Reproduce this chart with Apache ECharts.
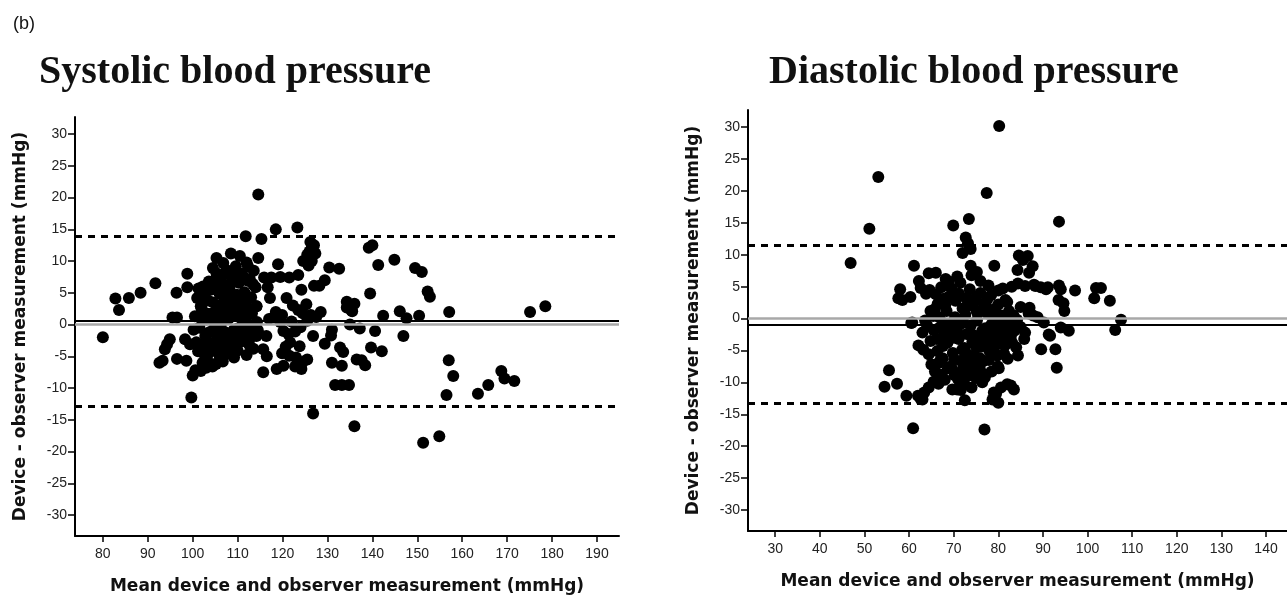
<!DOCTYPE html>
<html>
<head>
<meta charset="utf-8">
<script src="https://cdn.jsdelivr.net/npm/echarts@6/dist/echarts.min.js"></script>
<style>
  html, body { margin: 0; padding: 0; background: #fff; }
  #main { width: 1287px; height: 600px; }
</style>
</head>
<body>
<div id="main"></div>
<script>
// tick labels
var yTicks = [-30, -25, -20, -15, -10, -5, 0, 5, 10, 15, 20, 25, 30];
var sysXTicks = [80, 90, 100, 110, 120, 130, 140, 150, 160, 170, 180, 190];
var diaXTicks = [30, 40, 50, 60, 70, 80, 90, 100, 110, 120, 130, 140];

// Bland-Altman lines: [mean, upper limit, lower limit]
var sysLines = [0.6, 13.9, -12.8];
var diaLines = [-0.9, 11.5, -13.2];

// systolic: [mean of device & observer, device - observer]
var sysPoints = [
  [80,-2],[82.8,4.1],[83.6,2.3],[85.8,4.2],[88.4,5],[91.7,6.5],
  [95.5,1.1],[96.5,1.1],[96.4,5],[98.8,8],[98.8,5.9],
  [94.9,-2.3],[94.3,-3.1],[93.8,-3.9],[93.3,-5.7],[92.6,-6],[96.5,-5.4],[98.6,-5.7],[98.3,-2.3],[99.4,-3.1],
  [100,-8],[100.6,-7.2],[101.8,-7.3],[103,-6.8],[104.2,-6.2],[99.7,-11.5],
  [105.3,-3.9],[106,-5],[108.3,-3.9],[109.5,-3.2],[110.5,-2.8],
  [100.5,1.3],[101,4.2],[101.5,-0.5],[102,2.5],[102.3,6],[102.8,-1.8],[103,0.8],[103.4,3.8],[103.8,-3.5],
  [104,5.5],[104.2,1.7],[104.6,-0.8],[105,7],[105.3,10.5],[105.3,8.1],[105.5,3],[105.8,-2],[106,4.8],[106.3,0.2],
  [106.6,6.3],[107,2.2],[107.2,-1.2],[107.5,8.6],[107.8,4.2],[108,0.9],[108.2,5.8],[108.5,-2.3],[108.8,3.1],[109,7.3],
  [109.3,1.6],[109.6,9.2],[109.8,4.7],[110,-0.6],[110.3,6.6],[110.6,2.4],[111,8],[111.2,-1.5],[111.5,5.1],[111.8,3.3],
  [112,0.4],[112.3,6.9],[112.6,-3.2],[113,4.3],[113.2,1.8],[113.6,8.5],[114,5.9],[114.2,2.9],[114.5,-0.9],
  [104.5,8.9],[106.8,9.7],[103.2,-5],[105.2,-6.2],[107.6,-4.6],[109.2,-5.2],[102,-3.4],[112,-4.8],[101.3,5.7],
  [100.8,-2.8],[108.5,11.2],[110.5,10.8],
  [101.2,-4.2],[102.5,-4.6],[104.8,-2.8],[106.2,-3.3],[107.4,-2.6],[110,-4.1],[111.6,-2.2],[112.8,-0.3],
  [113.5,-3.8],[105.6,-1],[103.7,-1.2],[104.5,3.5],[111,0.8],[113.8,-1.2],
  [100.2,-0.8],[101.6,1.1],[102.4,4.5],[103.1,-2.6],[103.6,6.8],[104.1,-4.2],[104.9,0.6],[105.9,1.6],
  [106.5,-0.9],[106.9,3.4],[107.3,5.2],[107.9,-1.8],[108.4,2.2],[108.7,6.8],[109.1,-0.9],[109.7,3.3],
  [110.2,1.4],[110.8,4],[111.4,-0.2],[111.9,7.1],[112.5,2.1],[113.1,-1.9],[113.4,6.4],[114.3,0.4],
  [104.4,-6.6],[106.7,-5.8],[102.2,-6],[105.5,5.4],[107,7.9],[109.5,8.4],[110.4,-2.3],[112.1,-1.2],
  [101.8,2.9],[103.3,1.7],
  [114.6,20.5],[111.8,13.9],[115.3,13.5],[118.5,15],[123.3,15.3],
  [126.2,13],[126.5,12],[126,11.5],[125.5,11],[124.6,10],[126.5,10],[127,12.5],[127.3,11.2],[125.8,9.3],
  [114.6,10.5],[112,9.8],[112.3,9.2],[119,9.5],[130.4,9],[132.6,8.8],
  [112.7,7.2],[115.9,7.4],[117.5,7.4],[119.5,7.5],[121.5,7.4],[123.5,7.8],
  [127,6.1],[128.2,6.1],[129.4,7],[124.2,5.5],[116.7,5.9],[117.2,4.2],[120.9,4.2],
  [122.3,3],[123.5,2.3],[125.3,3.2],[124.5,1.8],[126.3,1.5],[134.3,2.7],[135.4,2.2],
  [118.5,2],[118,1.1],[119.9,1.5],[114.2,2.9],[117,0.9],[119.5,0.4],[122,0.5],[124,-0.4],
  [125.5,0.6],[127.5,1.2],[128.5,2],
  [114.2,-1.8],[116.4,-1.8],[115.7,-3.9],[116.5,-5],[115.7,-7.5],[118.7,-7],[120.2,-6.5],
  [120.2,-1],[121.3,-1.5],[122.8,-1.1],[121.7,-2.8],[123.8,-3.4],[120.7,-3.5],[119.9,-4.5],[121.5,-4.9],
  [123,-5.2],[124.5,-5.9],[125.5,-5.5],[124.2,-7],[122.8,-6.6],[126.8,-1.8],[131,-0.8],[130.8,-1.7],
  [129.4,-3],[132.8,-3.6],[133.5,-4.3],[131,-6],[133.2,-6.5],[131.7,-9.5],[133.2,-9.5],[134.8,-9.5],[126.8,-14],
  [135,0],[137.2,-0.6],[136.5,-5.5],[137.6,-5.6],[138.4,-6.4],[139.7,-3.6],[140.6,-1],[142.1,-4.2],[146.9,-1.8],[136,-16],
  [157,-5.6],[158,-8.1],[156.5,-11.1],[151.3,-18.6],[154.9,-17.6],[163.5,-10.9],[165.8,-9.5],[168.7,-7.3],
  [169.4,-8.5],[171.6,-8.9],
  [139.2,12.1],[140,12.5],[141.3,9.4],[144.9,10.2],[149.5,8.9],[151,8.3],[152.3,5.2],[152.8,4.4],[139.5,4.9],
  [134.3,3.6],[136,3.3],[135.5,2.1],[142.4,1.4],[146.1,2.1],[147.6,1],[150.4,1.4],[157.1,2],[175.1,2],[178.5,2.9]
];

// diastolic: [mean of device & observer, device - observer]
var diaPoints = [
  [46.9,8.7],[51.1,14.1],[53.1,22.2],[69.9,14.6],[73.4,15.6],[72.7,12.7],[73.2,11.8],[73.8,10.9],[72,10.3],
  [80.2,30.2],[77.4,19.7],[93.6,15.2],
  [61.1,8.3],[58,4.6],[57.6,3.2],[60.3,3.4],[62.2,5.9],[64.4,7.1],[66,7.2],[68.2,6.2],[60.7,-0.6],[58.5,2.9],
  [55.5,-8.1],[54.5,-10.7],[57.3,-10.2],[59.4,-12.1],[60.9,-17.2],[62.6,-12.6],[63.4,-11.6],[64.4,-10.8],
  [65.5,-9.9],[66.8,-9.6],[62,-12.1],[63,-12.7],
  [69.5,-7.7],[70.2,-8.9],[70.8,-11.1],[69.7,-11.1],[72.5,-12.8],
  [62.1,-4.2],[63.2,-4.9],[64.4,-5.6],[60.5,-0.7],
  [64.8,1.2],[66.4,2.3],[67.8,3.1],[64,-1],[65.5,-1.8],[66.2,-3.2],[67.8,-2.5],
  [75.8,-7.7],[77,-9.2],[78.5,-8.3],[80.1,-7.8],[76.4,-10],[78.7,-12.7],[79.5,-11.8],[80.6,-10.8],[82,-10.3],
  [76.9,-17.4],[82.8,-10.5],[83.5,-11.1],[79,-11.6],[80,-13.2],
  [74.6,-6],[75.5,-7],[76.8,-8.7],[79.9,-7.5],
  [85.8,-3.2],[84,-4.5],[84.4,-5.8],[89.6,-4.8],[92.8,-4.8],[93.1,-7.7],[91.6,-2.7],[94,-1.4],[95.8,-1.9],[91.3,-2.5],
  [106.2,-1.8],[107.5,-0.2],[105,2.8],[101.5,3.2],[101.9,4.8],[103,4.8],[97.2,4.4],[93.6,5.2],[94,4.6],
  [94.6,2.4],[94.8,1.2],[93.5,2.9],
  [86.6,9.8],[84.3,7.6],[86.9,7.2],[84.6,9.9],[85.5,9.2],[87.7,8.2],[79.1,8.3],[73.8,8.3],[75.2,7.3],[74,6.8],[76,5.9],
  [84.4,5.5],[86,5.1],[88.3,5.1],[89.5,4.9],[91.1,4.9],[81,4.7],[83,5],[88,5.3],[90.7,4.6],
  [75,3.3],[77.5,3],[80,2.2],[82,2.6],[85,1.8],[87,1.7],[87.8,0.5],[88.8,0.2],[90.2,-0.6],
  [62.6,4.8],[63.8,3.9],[64.6,4.5],[66,3.8],[67.2,4.9],[68.1,2.1],[68.8,3.4],[69.5,4.7],[70.4,2.8],[71.2,3.9],
  [72,1.6],[72.8,3.2],[73.6,4.6],[74.4,2.4],[75.1,1.2],[76,4],[76.8,2.3],[77.6,0.8],[78.4,3.7],[79.2,1.5],
  [80,4.4],[80.8,0.5],[81.6,2.9],[82.4,1.2],
  [63,-2.2],[63.6,-0.3],[64.8,-3.5],[65.4,0.4],[66.3,-5.1],[66.9,-1.4],[67.5,-6.2],[68.2,-0.8],[68.6,-3.8],
  [69.1,-2.1],[69.8,-5.4],[70.3,0.2],[70.7,-1.8],[71.1,-3.2],[71.6,-6.6],[72.1,-0.6],[72.4,-4.6],[72.9,-2.4],
  [73.3,-7.2],[73.8,-1.1],[74.2,-3.6],[74.7,-5.8],[75.2,-0.3],[75.6,-2.7],[76.1,-4.4],[76.6,-6.7],[77.1,-1.5],
  [77.5,-3.2],[78,-5.1],[78.5,-0.9],[79,-2.6],[79.6,-4.1],[80.1,-1.2],[80.7,-3.3],[81.3,-5.5],[81.9,-2.1],
  [82.5,-0.4],[83.1,-3.8],[83.6,-1.9],[84.2,-0.2],[85,-1.3],[86,-2.2],[86.8,0.8],
  [65,-7.2],[65.8,-8.3],[66.5,-7],[67.3,-8.8],[68,-9.6],[68.7,-7.8],[71,-9.5],[71.8,-8.2],[72.3,-10.1],
  [73,-9],[74,-10.8],[74.5,-8.3],
  [65.8,1.5],[66.8,0.2],[67.6,-4.3],[68.4,1.2],[69.3,-0.9],[69.9,-3],[70.6,3.8],[71.4,-0.9],[71.9,-4.9],
  [72.6,0.6],[73.1,-5.6],[73.5,2.1],[74,-2.4],[74.9,-4.3],[75.4,0.8],[75.9,-6.2],[76.4,-1.9],[76.9,-3.6],
  [77.3,1.8],[77.9,-6.5],[78.2,-2],[78.8,-4.5],[79.4,0.5],[79.8,-5.8],[80.4,-2.4],[81,-0.8],[81.5,-4.2],
  [82.1,-6.3],[82.8,-2.8],[83.4,0.5],[70.1,-6.4],[69,-7.6],[72.2,-7.5],[75,-9.3],[67.1,-6.4],[68.9,5.8],
  [71.5,5.6],[77.8,5.2],[70.8,6.6],[66.6,-10.2],[71.6,-11.2]
];

var chart = echarts.init(document.getElementById('main'), null, { renderer: 'canvas' });

var labelFont = { fontFamily: 'Liberation Sans', fontSize: 14, color: '#222' };
var nameFont = { fontFamily: 'DejaVu Sans', fontWeight: 'bold', fontSize: 17, color: '#111' };

function xAxisFor(idx, min, max, ticks) {
  return {
    gridIndex: idx, type: 'value', min: min, max: max,
    name: 'Mean device and observer measurement (mmHg)',
    nameLocation: 'middle', nameGap: 42, nameTextStyle: nameFont,
    axisLine: { onZero: false, lineStyle: { color: '#000', width: 2 } },
    axisTick: { customValues: ticks, length: 6, lineStyle: { color: '#000', width: 1.5 } },
    axisLabel: Object.assign({ customValues: ticks, margin: 11 }, labelFont),
    splitLine: { show: false }
  };
}

function yAxisFor(idx) {
  return {
    gridIndex: idx, type: 'value', min: -33.3, max: 32.7,
    name: 'Device - observer measurement (mmHg)',
    nameLocation: 'middle', nameGap: 46, nameTextStyle: nameFont,
    axisLine: { onZero: false, lineStyle: { color: '#000', width: 2 } },
    axisTick: { customValues: yTicks, length: 7, lineStyle: { color: '#000', width: 1.5 } },
    axisLabel: Object.assign({ customValues: yTicks, margin: 8 }, labelFont),
    splitLine: { show: false }
  };
}

function baLines(vals) {
  return {
    silent: true, symbol: ['none', 'none'], label: { show: false },
    data: [
      { yAxis: 0, lineStyle: { color: '#a8a8a8', width: 2.5, type: 'solid' } },
      { yAxis: vals[0], lineStyle: { color: '#000', width: 2, type: 'solid' } },
      { yAxis: vals[1], lineStyle: { color: '#000', width: 3, type: [7, 6] } },
      { yAxis: vals[2], lineStyle: { color: '#000', width: 3, type: [7, 6] } }
    ]
  };
}

var option = {
  animation: false,
  backgroundColor: '#fff',
  title: [
    { text: '(b)', left: 8, top: 10, textStyle: { fontFamily: 'Liberation Sans', fontSize: 18, fontWeight: 'normal', color: '#111' } },
    { text: 'Systolic blood pressure', left: 34, top: 48, textStyle: { fontFamily: 'Liberation Serif', fontSize: 40, fontWeight: 'bold', color: '#111' } },
    { text: 'Diastolic blood pressure', left: 764, top: 48, textStyle: { fontFamily: 'Liberation Serif', fontSize: 40, fontWeight: 'bold', color: '#111' } }
  ],
  grid: [
    { left: 75, top: 117, width: 544, height: 421 },
    { left: 748, top: 110, right: 0, height: 421 }
  ],
  xAxis: [
    xAxisFor(0, 73.8, 194.9, sysXTicks),
    xAxisFor(1, 23.9, 144.7, diaXTicks)
  ],
  yAxis: [yAxisFor(0), yAxisFor(1)],
  series: [
    {
      type: 'scatter', xAxisIndex: 0, yAxisIndex: 0, data: sysPoints,
      symbolSize: 12, itemStyle: { color: '#000', opacity: 1 }, markLine: baLines(sysLines), z: 3
    },
    {
      type: 'scatter', xAxisIndex: 1, yAxisIndex: 1, data: diaPoints,
      symbolSize: 12, itemStyle: { color: '#000', opacity: 1 }, markLine: baLines(diaLines), z: 3
    }
  ]
};

chart.setOption(option);
</script>
</body>
</html>
